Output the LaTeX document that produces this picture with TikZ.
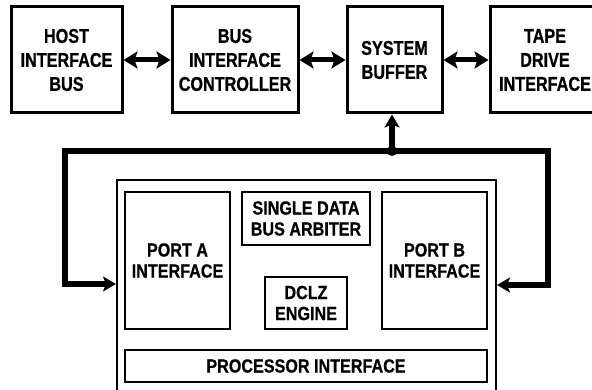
\documentclass[tikz,border=0pt]{standalone}
\usepackage{fontspec}
\setmainfont{Liberation Sans}
\newfontfamily\topfont{Liberation Sans}[FakeStretch=0.81, BoldFeatures={FakeBold=0.7}]
\newfontfamily\infont{Liberation Sans}[FakeStretch=0.85, BoldFeatures={FakeBold=0.7}]
\usetikzlibrary{arrows.meta}
\begin{document}
\begin{tikzpicture}[x=1pt,y=-1pt,
  box/.style={draw, line width=3pt, align=center, inner sep=0pt, font=\topfont\fontsize{20}{24}\selectfont\bfseries},
  ibox/.style={draw, line width=2pt, align=center, inner sep=0pt, font=\infont\fontsize{19}{21}\selectfont\bfseries},
  dbl/.style={line width=5pt, {Stealth[length=14pt,width=17pt,inset=3pt]}-{Stealth[length=14pt,width=17pt,inset=3pt]}},
  busarrow/.style={line width=6pt, -{Stealth[length=13pt,width=15pt,inset=3pt]}}]
\useasboundingbox (0,0) rectangle (592,390);
\node[box, minimum width=111pt, minimum height=106pt] (host) at (66.5,60) {HOST\\INTERFACE\\BUS};
\node[box, minimum width=126pt, minimum height=106pt] (bic) at (235,60) {BUS\\INTERFACE\\CONTROLLER};
\node[box, minimum width=95pt, minimum height=106pt] (sb) at (394.5,60) {SYSTEM\\BUFFER};
\node[box, minimum width=110pt, minimum height=106pt] (tape) at (545,60) {TAPE\\DRIVE\\INTERFACE};
\node[ibox, minimum width=379pt, minimum height=222pt] (big) at (306.5,291) {};
\node[ibox, minimum width=105pt, minimum height=137pt] (pa) at (177.5,260.5) {PORT A\\INTERFACE};
\node[ibox, minimum width=128pt, minimum height=53pt] (arb) at (306,218.5) {SINGLE DATA\\BUS ARBITER};
\node[ibox, minimum width=82pt, minimum height=52pt] (dclz) at (306,303) {DCLZ\\ENGINE};
\node[ibox, minimum width=105pt, minimum height=137pt] (pb) at (434.5,260.5) {PORT B\\INTERFACE};
\node[ibox, minimum width=362pt, minimum height=32pt] (proc) at (306,366) {PROCESSOR INTERFACE};
\draw[dbl] (host.east) -- (bic.west);
\draw[dbl] (bic.east) -- (sb.west);
\draw[dbl] (sb.east) -- (tape.west);
\coordinate (j) at (392,151);
\coordinate (la) at (65,151);
\coordinate (ra) at (548,151);
\draw[busarrow] (j) -- (j |- sb.south);
\draw[busarrow, line join=miter] (j) -- (la) -- (la |- 0,284) -- (big.west |- 0,284);
\draw[busarrow, line join=miter] (j) -- (ra) -- (ra |- 0,285) -- (big.east |- 0,285);
\fill (j) circle (5pt);
\end{tikzpicture}
\end{document}
